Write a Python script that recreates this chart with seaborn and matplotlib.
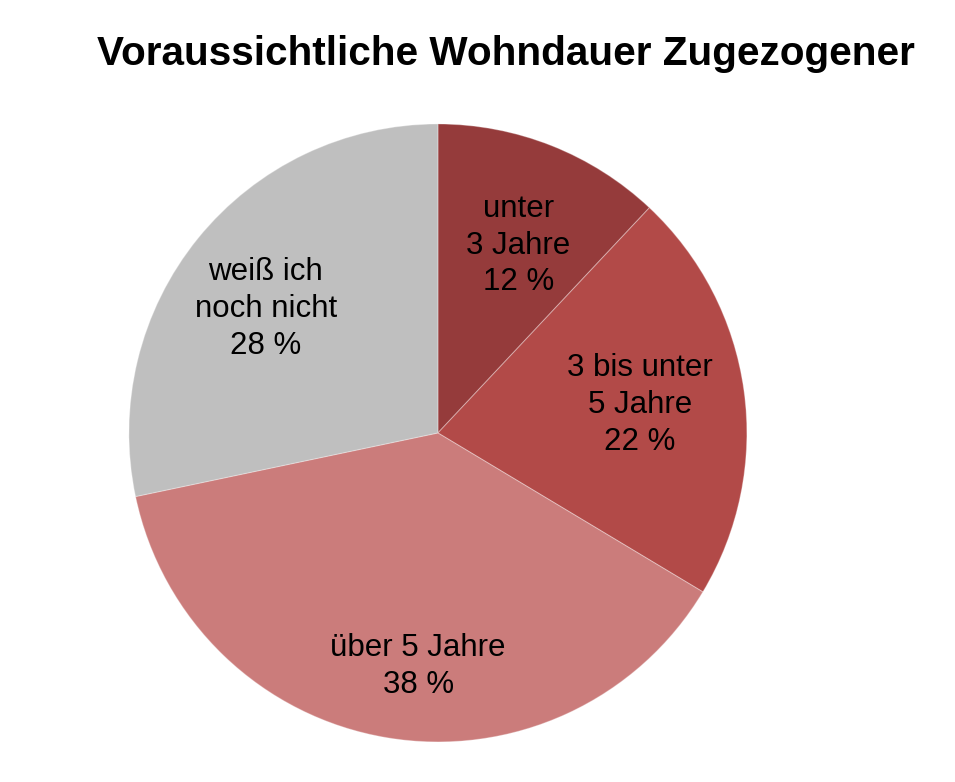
import numpy as np
import matplotlib
matplotlib.use("Agg")
import matplotlib.pyplot as plt
import seaborn as sns

sns.set_theme(style="white")
plt.rcParams['font.family'] = ['Liberation Sans', 'DejaVu Sans']

categories = ["unter\n3 Jahre", "3 bis unter\n5 Jahre", "über 5 Jahre", "weiß ich\nnoch nicht"]
values = [12.0, 21.6, 38.1, 28.3]
colors = ["#953B3B", "#B24A48", "#CB7C7B", "#BFBFBF"]
label_dist = [0.66, 0.66, 0.76, 0.686]
label_angle_offset = [-1.6, 0.0, 4.7, 3.3]

fig = plt.figure(figsize=(9.55, 7.82), dpi=100)
ax = fig.add_axes([0.4586 - 0.3236, 0.4463 - 0.3951, 0.6471, 0.7903])
wedges, _ = ax.pie(values, colors=colors, startangle=90, counterclock=False,
                   radius=1.0, wedgeprops=dict(edgecolor=(1, 1, 1, 0.3), linewidth=0.8))
for w, cat, v, d, off in zip(wedges, categories, values, label_dist, label_angle_offset):
    ang = np.deg2rad((w.theta1 + w.theta2) / 2 + off)
    ax.text(d * np.cos(ang), d * np.sin(ang), f"{cat}\n{v:.0f} %", ha="center", va="center",
            fontsize=22.5, color="black", linespacing=1.3)
ax.set_xlim(-1, 1)
ax.set_ylim(-1, 1)
ax.set_aspect("equal")
ax.axis("off")
fig.text(0.53, 0.931, "Voraussichtliche Wohndauer Zugezogener", ha="center", va="center",
         fontsize=29.2, fontweight="bold", color="black")
fig.savefig("out.png", dpi=100)
